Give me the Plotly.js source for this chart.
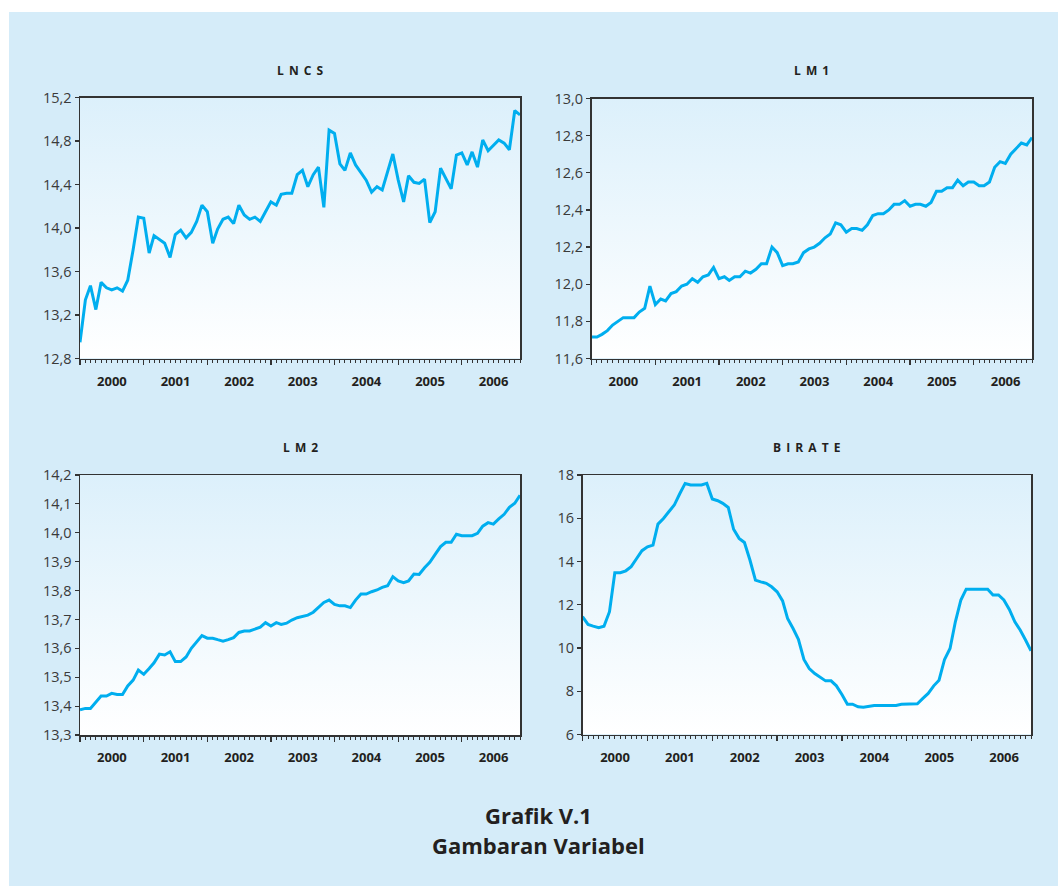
<!DOCTYPE html>
<html><head><meta charset="utf-8">
<script src="https://cdn.plot.ly/plotly-3.0.1.min.js"></script>
<style>html,body{margin:0;padding:0;background:#fff}</style>
</head><body><div id="chart" style="width:1058px;height:886px"></div>
<script>
// ---- categories: monthly observations Jan 2000 .. Dec 2006 ----
const startYear = 2000, nMonths = 84;
const months = [];
for (let i = 0; i < nMonths; i++) {
  const y = startYear + Math.floor(i / 12), m = i % 12 + 1;
  months.push(y + '-' + String(m).padStart(2, '0') + '-01');
}

// ---- series values ----
const lncs = [12.95,13.34,13.47,13.25,13.50,13.45,13.43,13.45,13.42,13.52,
  13.80,14.10,14.09,13.77,13.93,13.89,13.86,13.73,13.94,13.98,
  13.91,13.96,14.06,14.21,14.15,13.86,13.99,14.08,14.10,14.04,
  14.21,14.12,14.08,14.10,14.06,14.15,14.24,14.21,14.31,14.32,
  14.32,14.49,14.53,14.38,14.49,14.56,14.19,14.90,14.87,14.59,
  14.53,14.69,14.58,14.51,14.44,14.33,14.38,14.35,14.52,14.68,
  14.44,14.24,14.48,14.42,14.41,14.45,14.05,14.15,14.55,14.46,
  14.36,14.67,14.69,14.58,14.70,14.56,14.81,14.71,14.76,14.81,
  14.78,14.72,15.08,15.04];

const lm1 = [11.716,11.716,11.73,11.75,11.78,11.80,11.82,11.82,11.82,11.85,
  11.87,11.99,11.89,11.92,11.91,11.95,11.96,11.99,12.00,12.03,
  12.01,12.04,12.05,12.09,12.03,12.04,12.02,12.04,12.04,12.07,
  12.06,12.08,12.11,12.11,12.20,12.17,12.10,12.11,12.11,12.12,
  12.17,12.19,12.20,12.22,12.25,12.27,12.33,12.32,12.28,12.30,
  12.30,12.29,12.32,12.37,12.38,12.38,12.40,12.43,12.43,12.45,
  12.42,12.43,12.43,12.42,12.44,12.50,12.50,12.52,12.52,12.56,
  12.53,12.55,12.55,12.53,12.53,12.55,12.63,12.66,12.65,12.70,
  12.73,12.76,12.75,12.79];

const lm2 = [13.387,13.392,13.392,13.415,13.435,13.435,13.444,13.44,13.44,13.47,
  13.49,13.525,13.51,13.53,13.55,13.58,13.577,13.588,13.554,13.554,
  13.57,13.60,13.623,13.644,13.635,13.635,13.63,13.625,13.63,13.637,
  13.655,13.66,13.66,13.667,13.673,13.689,13.677,13.689,13.683,13.687,
  13.698,13.706,13.71,13.715,13.725,13.741,13.759,13.767,13.752,13.747,
  13.747,13.741,13.767,13.788,13.788,13.796,13.802,13.811,13.817,13.848,
  13.833,13.827,13.833,13.857,13.856,13.879,13.898,13.925,13.952,13.967,
  13.967,13.995,13.99,13.99,13.99,13.998,14.023,14.035,14.03,14.048,
  14.064,14.088,14.102,14.13];

const birate = [11.45,11.09,11.01,10.94,11.01,11.68,13.48,13.48,13.57,13.76,
  14.14,14.50,14.68,14.76,15.73,15.99,16.30,16.61,17.12,17.61,
  17.54,17.54,17.54,17.61,16.89,16.81,16.69,16.50,15.49,15.07,
  14.88,14.07,13.14,13.06,12.99,12.83,12.60,12.18,11.37,10.90,
  10.40,9.47,9.05,8.82,8.64,8.48,8.48,8.25,7.85,7.40,
  7.40,7.28,7.26,7.31,7.34,7.34,7.34,7.34,7.34,7.40,
  7.40,7.40,7.42,7.67,7.90,8.25,8.51,9.47,9.98,11.21,
  12.22,12.72,12.72,12.72,12.72,12.72,12.45,12.45,12.22,11.78,
  11.21,10.83,10.36,9.87];

const panelTitles = ['L N C S', 'L M 1', 'L M 2', 'B I R A T E'];
const captionLines = ['Grafik V.1', 'Gambaran Variabel'];

// ---- layout helpers ----
const W = 1058, H = 886;
const fx = p => p / W;
const fy = p => 1 - p / H;
const lineColor = '#00aeef';
const axisColor = '#333333';
const bgBlue = '#d5ecf9';
const font = 'Open Sans, Noto Sans, sans-serif';

// plot boxes in pixels [left, right, top, bottom]
const boxes = [
  [80, 520, 97.5, 358.5],
  [591.5, 1032, 98.5, 358.5],
  [80, 520, 475, 735],
  [582.5, 1031, 475, 734.5]
];
const yRanges = [[12.8, 15.2], [11.6, 13.0], [13.3, 14.2], [6, 18]];
const yDticks = [0.4, 0.2, 0.1, 2];
const yFormats = ['.1f', '.1f', '.1f', 'd'];
const series = [lncs, lm1, lm2, birate];

const gradSvg = '<svg xmlns="http://www.w3.org/2000/svg" width="10" height="100" preserveAspectRatio="none">' +
  '<defs><linearGradient id="g" x1="0" y1="0" x2="0" y2="1">' +
  '<stop offset="0" stop-color="#dcf0fb"/><stop offset="1" stop-color="#ffffff"/>' +
  '</linearGradient></defs><rect width="10" height="100" fill="url(#g)"/></svg>';
const gradSrc = 'data:image/svg+xml;charset=utf-8,' + encodeURIComponent(gradSvg);

// widen the letter spacing of the panel titles (space + thin space)
const spaced = t => t.split(' ').join(' \u2009');

const data = [];
const layout = {
  width: W, height: H, autosize: false,
  margin: {l: 0, r: 0, t: 0, b: 0},
  paper_bgcolor: bgBlue,
  plot_bgcolor: 'rgba(0,0,0,0)',
  separators: ',.',
  showlegend: false,
  font: {family: font, color: '#333'},
  images: [], shapes: [], annotations: []
};

// white outer margins (top and left)
layout.shapes.push({type: 'rect', xref: 'paper', yref: 'paper', x0: 0, x1: fx(9), y0: 0, y1: 1,
  fillcolor: '#ffffff', line: {width: 0}, layer: 'below'});
layout.shapes.push({type: 'rect', xref: 'paper', yref: 'paper', x0: 0, x1: 1, y0: fy(12), y1: 1,
  fillcolor: '#ffffff', line: {width: 0}, layer: 'below'});

boxes.forEach((b, k) => {
  const n = k === 0 ? '' : String(k + 1);
  const xa = 'xaxis' + n, ya = 'yaxis' + n;
  data.push({
    type: 'scatter', mode: 'lines', x: months, y: series[k],
    xaxis: 'x' + n, yaxis: 'y' + n,
    line: {color: lineColor, width: 3}, hoverinfo: 'skip'
  });
  layout[xa] = {
    domain: [fx(b[0]), fx(b[1])], anchor: 'y' + n,
    type: 'date', range: [months[0], months[months.length - 1]],
    tick0: months[0], dtick: 'M12', tickformat: '%Y', ticklabelmode: 'period',
    ticks: 'outside', ticklen: 5, tickwidth: 1.2, tickcolor: axisColor,
    minor: {dtick: 'M1', ticks: 'outside', ticklen: 3, tickwidth: 1, tickcolor: axisColor, showgrid: false},
    showgrid: false, zeroline: false,
    showline: true, mirror: true, linecolor: axisColor, linewidth: 1.5,
    tickfont: {family: font, size: 13, color: '#231f20', weight: 700},
    ticklabelstandoff: 5, fixedrange: true
  };
  layout[ya] = {
    domain: [fy(b[3]), fy(b[2])], anchor: 'x' + n,
    range: yRanges[k], dtick: yDticks[k], tick0: yRanges[k][0], tickformat: yFormats[k],
    ticks: 'outside', ticklen: 4, tickwidth: 1.2, tickcolor: axisColor,
    showgrid: false, zeroline: false,
    showline: true, mirror: true, linecolor: axisColor, linewidth: 1.5,
    tickfont: {family: font, size: 14.5, color: '#3a3a3a'}, fixedrange: true
  };
  layout.images.push({
    source: gradSrc, xref: 'paper', yref: 'paper',
    x: fx(b[0]), y: fy(b[2]), sizex: fx(b[1]) - fx(b[0]), sizey: (b[3] - b[2]) / H,
    xanchor: 'left', yanchor: 'top', sizing: 'stretch', layer: 'below'
  });
  layout.annotations.push({
    text: spaced(panelTitles[k]), xref: 'paper', yref: 'paper',
    x: fx((b[0] + b[1]) / 2), y: fy(k < 2 ? 70 : 447), xanchor: 'center', yanchor: 'middle',
    showarrow: false, font: {family: font, size: 12, color: '#231f20', weight: 700}
  });
});

layout.annotations.push({
  text: captionLines[0], xref: 'paper', yref: 'paper', x: fx(538), y: fy(815),
  xanchor: 'center', yanchor: 'middle', showarrow: false,
  font: {family: font, size: 22, color: '#231f20', weight: 700}
});
layout.annotations.push({
  text: captionLines[1], xref: 'paper', yref: 'paper', x: fx(538), y: fy(845),
  xanchor: 'center', yanchor: 'middle', showarrow: false,
  font: {family: font, size: 22, color: '#231f20', weight: 700}
});

Plotly.newPlot('chart', data, layout, {staticPlot: true, displayModeBar: false});
</script></body></html>
